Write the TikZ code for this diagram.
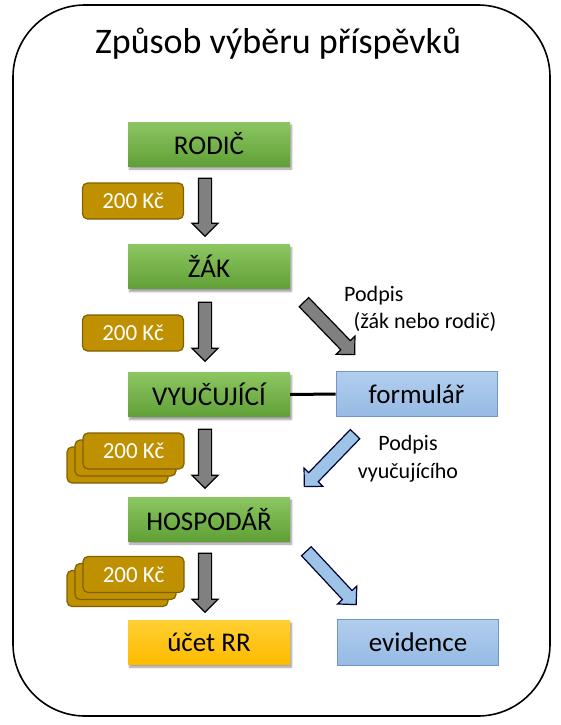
\documentclass[tikz,border=0pt]{standalone}
\usepackage{fontspec}
\setmainfont{Carlito}
\usetikzlibrary{shapes.arrows,shadows.blur}
\definecolor{gtop}{RGB}{140,198,98}
\definecolor{gbot}{RGB}{96,160,54}
\definecolor{gold}{RGB}{191,144,0}
\definecolor{goldb}{RGB}{128,96,0}
\definecolor{ytop}{RGB}{255,208,50}
\definecolor{ybot}{RGB}{255,186,0}
\definecolor{btop}{RGB}{178,206,238}
\definecolor{bbot}{RGB}{150,186,228}
\definecolor{bborder}{RGB}{110,150,205}
\definecolor{barrow}{RGB}{157,195,230}
\definecolor{garrow}{RGB}{128,128,128}
\tikzset{
  greenbox/.style={rectangle, minimum width=162pt, minimum height=44pt, top color=gtop, bottom color=gbot, draw=none,
    blur shadow={shadow xshift=1.5pt, shadow yshift=-3pt, shadow blur steps=6, shadow opacity=40}, font=\fontsize{27}{30}\selectfont},
  yellowbox/.style={rectangle, minimum width=162pt, minimum height=44pt, top color=ytop, bottom color=ybot, draw=none,
    blur shadow={shadow xshift=1.5pt, shadow yshift=-3pt, shadow blur steps=6, shadow opacity=40}, font=\fontsize{27}{30}\selectfont},
  bluebox/.style={rectangle, minimum width=161pt, minimum height=45pt, top color=btop, bottom color=bbot, draw=bborder, line width=0.8pt,
    font=\fontsize{27}{30}\selectfont},
  money/.style={rectangle, rounded corners=5pt, minimum width=101pt, minimum height=36pt, fill=gold, draw=goldb, line width=1.2pt,
    text=white, font=\fontsize{23}{26}\selectfont},
  moneyback/.style={rectangle, rounded corners=5pt, minimum width=101pt, minimum height=36pt, fill=gold, draw=goldb, line width=1.2pt},
  blockarrow/.style={single arrow, inner sep=6pt, single arrow head extend=6.5pt, draw=black, line width=1.2pt},
  grayarrow/.style={blockarrow, fill=garrow},
  bluearrow/.style={blockarrow, fill=barrow, draw=black!80!blue},
  note/.style={font=\fontsize{22}{24}\selectfont, inner sep=0pt},
}
\begin{document}
\begin{tikzpicture}[x=1pt,y=-1pt]
\useasboundingbox (0,0) rectangle (561,725);
\draw[line width=1.6pt, rounded corners=72pt] (13,5) rectangle (550,716);
\node[font=\fontsize{36}{40}\selectfont] (title) at (278,44) {Způsob výběru příspěvků};

\node[greenbox] (rodic) at (209,144) {RODIČ};
\node[greenbox] (zak) at (209,266.5) {ŽÁK};
\node[greenbox] (vyu) at (209,394.5) {VYUČUJÍCÍ};
\node[greenbox] (hosp) at (209,519) {HOSPODÁŘ};
\node[yellowbox] (ucet) at (209,642) {účet RR};
\node[bluebox] (form) at (416.5,394) {formulář};
\node[bluebox, minimum height=46pt] (evid) at (418,642) {evidence};

\node[money] (m1) at (133,201) {200 Kč};
\node[money] (m2) at (133,333) {200 Kč};
\node[moneyback] (m3c) at (117.5,465) {};
\node[moneyback] (m3b) at (125.5,458) {};
\node[money] (m3) at (133.5,451) {200 Kč};
\node[moneyback] (m4c) at (117.5,588.5) {};
\node[moneyback] (m4b) at (125.5,581.5) {};
\node[money] (m4) at (133.5,574.5) {200 Kč};

\node[grayarrow, minimum height=58pt, rotate=-90] (a1) at (205,204) {};
\node[grayarrow, minimum height=59pt, rotate=-90] (a2) at (205,328.5) {};
\node[grayarrow, minimum height=59pt, rotate=-90] (a3) at (205,455.5) {};
\node[grayarrow, minimum height=59pt, rotate=-90] (a4) at (205,579.5) {};

\node[grayarrow, minimum height=73pt, rotate=-46] (d1) at (327,326) {};
\node[bluearrow, minimum height=73pt, rotate=-134] (d2) at (332,458) {};
\node[bluearrow, minimum height=73pt, rotate=-47] (d3) at (329,575.5) {};

\draw[line width=3pt] (vyu.east) -- (form.west);

\node[note, anchor=west] (p1) at (344,296) {Podpis};
\node[note] (p1b) at (425,322) {(žák nebo rodič)};
\node[note] (p2) at (408,445) {Podpis};
\node[note] (p2b) at (408,473) {vyučujícího};
\end{tikzpicture}
\end{document}
